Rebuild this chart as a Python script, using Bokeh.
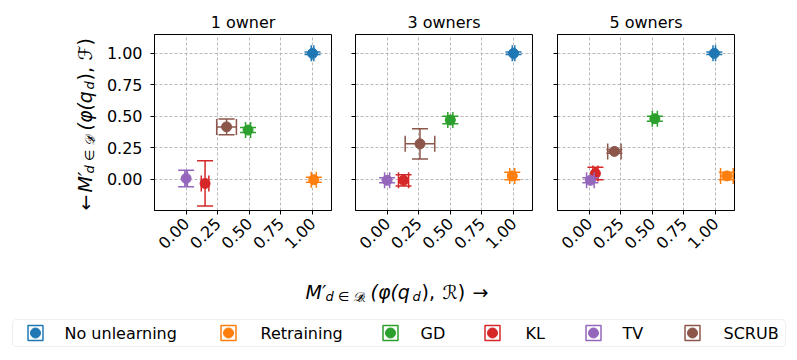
from math import pi
from bokeh.plotting import figure
from bokeh.layouts import row, column
from bokeh.models import Range1d, FixedTicker, NumeralTickFormatter, ColumnDataSource, BoxAnnotation
from bokeh.core.properties import value
from bokeh.embed import file_html
from bokeh.resources import INLINE

# ---------------- data ----------------
methods = ["No unlearning", "Retraining", "GD", "KL", "TV", "SCRUB"]
colors = ["#1f77b4", "#ff7f0e", "#2ca02c", "#d62728", "#9467bd", "#8c564b"]
panel_titles = ["1 owner", "3 owners", "5 owners"]
tick_values = [0.0, 0.25, 0.5, 0.75, 1.0]

# 1 owner
x_1 = [1.00, 1.01, 0.49, 0.15, 0.00, 0.32]
y_1 = [1.00, -0.005, 0.39, -0.035, 0.005, 0.415]
xerr_1 = [0.01, 0.02, 0.02, 0.03, 0.01, 0.078]
yerr_1 = [0.01, 0.02, 0.02, 0.18, 0.066, 0.063]

# 3 owners
x_3 = [1.00, 0.99, 0.50, 0.13, 0.00, 0.26]
y_3 = [1.00, 0.025, 0.47, -0.01, -0.01, 0.28]
xerr_3 = [0.01, 0.02, 0.02, 0.04, 0.02, 0.117]
yerr_3 = [0.01, 0.03, 0.03, 0.045, 0.02, 0.12]

# 5 owners
x_5 = [0.99, 1.09, 0.52, 0.05, 0.01, 0.20]
y_5 = [1.00, 0.025, 0.48, 0.045, -0.01, 0.22]
xerr_5 = [0.01, 0.05, 0.02, 0.02, 0.03, 0.053]
yerr_5 = [0.01, 0.03, 0.02, 0.05, 0.02, 0.015]

panels_data = [(x_1, y_1, xerr_1, yerr_1), (x_3, y_3, xerr_3, yerr_3), (x_5, y_5, xerr_5, yerr_5)]

# ---------------- style / layout ----------------
FONT = "DejaVu Sans"
FRAME_W, FRAME_H = 177, 176
B_TOP, B_BOT = 34, 52
borders = [(54, 12), (12, 12), (13, 63)]


def make_panel(idx):
    xs, ys, xe, ye = panels_data[idx]
    bl, br = borders[idx]
    p = figure(title=panel_titles[idx], frame_width=FRAME_W, frame_height=FRAME_H,
               x_range=Range1d(-0.25, 1.15), y_range=Range1d(-0.25, 1.15),
               output_backend="svg", toolbar_location=None,
               min_border_left=bl, min_border_right=br, min_border_top=B_TOP, min_border_bottom=B_BOT)
    p.title.align = "center"
    p.title.text_font = FONT
    p.title.text_font_size = "16px"
    p.title.text_font_style = "normal"
    p.title.text_color = "black"
    p.title.standoff = 5
    p.outline_line_color = "black"
    p.outline_line_width = 1
    p.background_fill_color = "white"
    p.border_fill_color = "white"
    for ax in (p.xaxis, p.yaxis):
        ax.ticker = FixedTicker(ticks=tick_values)
        ax.formatter = NumeralTickFormatter(format="0.00")
        ax.major_label_text_font = FONT
        ax.major_label_text_font_size = "16px"
        ax.major_label_text_color = "black"
        ax.major_tick_out = 4
        ax.major_tick_in = 0
        ax.minor_tick_line_color = None
        ax.axis_line_color = "black"
        ax.major_tick_line_color = "black"
        ax.major_label_standoff = 6
    p.yaxis.major_label_standoff = 8
    p.xaxis.major_label_orientation = pi / 4
    if idx > 0:
        p.yaxis.major_label_overrides = {t: "" for t in tick_values}
    p.grid.grid_line_color = "#b8b8b8"
    p.grid.grid_line_dash = "3 2"
    p.grid.grid_line_width = 1

    for i in range(len(methods)):
        c = colors[i]
        x, y, dx, dy = xs[i], ys[i], xe[i], ye[i]
        src = ColumnDataSource(dict(x=[x], y=[y], xl=[x - dx], xr=[x + dx], yb=[y - dy], yt=[y + dy]))
        p.segment(x0="xl", y0="y", x1="xr", y1="y", source=src, line_color=c, line_width=1.5)
        p.segment(x0="x", y0="yb", x1="x", y1="yt", source=src, line_color=c, line_width=1.5)
        p.scatter(x="x", y="yb", marker="dash", size=16, line_color=c, line_width=1.5, source=src)
        p.scatter(x="x", y="yt", marker="dash", size=16, line_color=c, line_width=1.5, source=src)
        p.scatter(x="xl", y="y", marker="dash", angle=pi / 2, size=16, line_color=c, line_width=1.5, source=src)
        p.scatter(x="xr", y="y", marker="dash", angle=pi / 2, size=16, line_color=c, line_width=1.5, source=src)
        p.scatter(x="x", y="y", marker="circle", size=10, fill_color=c, line_color=c, source=src)
    return p


def blank_fig(w, h, x0, x1, y_top, y_bot, **kw):
    f = figure(x_range=Range1d(x0, x1), y_range=Range1d(y_bot, y_top),
               x_axis_location=None, y_axis_location=None, output_backend="svg",
               toolbar_location=None, min_border=0, **kw)
    if "frame_height" not in kw:
        f.width = w
        f.height = h
        f.min_border_left = f.min_border_right = f.min_border_top = f.min_border_bottom = 0
    f.grid.visible = False
    f.outline_line_color = None
    f.background_fill_color = "white"
    f.border_fill_color = "white"
    return f


panels = [make_panel(i) for i in range(3)]

# sizes for math-like label pieces (main, subscript, sub-subscript)
SIZES = {0: "19px", 1: "13px", 2: "9px"}
SHIFT = {0: 0, 1: 5, 2: 7}

xlabel_pieces = [("M\u2032", 0, 0, "italic"), ("d \u2208 \U0001D49F", 20, 1, "italic"),
                 ("\u211B", 53, 2, "normal"), ("(\u03c6(q", 65, 0, "italic"),
                 ("d", 107, 1, "italic"), ("),", 116, 0, "normal"),
                 ("\u211B)", 137, 0, "normal"), ("\u2192", 167, 0, "normal")]
ylabel_pieces = [("\u2190", 0, 0, "normal"), ("M\u2032", 18, 0, "italic"),
                 ("d \u2208 \U0001D49F", 37, 1, "italic"), ("\u2131", 69, 2, "normal"),
                 ("(\u03c6(q", 80, 0, "italic"), ("d", 121, 1, "italic"),
                 ("),", 130, 0, "normal"), ("\u2131)", 150, 0, "normal")]

# y label figure: frame aligned with the panels' frames (page y 34..210)
ylab = blank_fig(100, 262, 0, 100, B_TOP, B_TOP + FRAME_H,
                 frame_width=100, frame_height=FRAME_H)
ylab.min_border_left = 0
ylab.min_border_right = 0
ylab.min_border_top = B_TOP
ylab.min_border_bottom = B_BOT
Y_START, Y_BASE = 210, 84
for txt, off, lvl, style in ylabel_pieces:
    ylab.text(x=[Y_BASE + SHIFT[lvl]], y=[Y_START - off], text=[txt], angle=pi / 2,
              text_align="left", text_baseline="alphabetic", text_font=value(FONT),
              text_font_size=SIZES[lvl], text_font_style=style, text_color="black")

top = row(ylab, *panels)

# x label figure (page y 262..305)
xlab = blank_fig(797, 43, 0, 797, 262, 305)
X_START, X_BASE = 305, 291
for txt, off, lvl, style in xlabel_pieces:
    xlab.text(x=[X_START + off], y=[X_BASE + SHIFT[lvl]], text=[txt],
              text_align="left", text_baseline="alphabetic", text_font=value(FONT),
              text_font_size=SIZES[lvl], text_font_style=style, text_color="black")

# legend figure (page y 305..360)
leg = blank_fig(797, 55, 0, 797, 305, 360)
leg.add_layout(BoxAnnotation(left=12, right=785, top=319, bottom=346, fill_color="white",
                             fill_alpha=1, line_color="#cccccc", line_width=1.2,
                             border_radius=4, level="underlay"))
marker_x = [35, 228, 390, 492, 593, 692]
text_x = [64, 260, 420, 525, 622, 723]
LEG_Y = 332.5
for i, m in enumerate(methods):
    c = colors[i]
    leg.rect(x=[marker_x[i]], y=[LEG_Y], width=15, height=15, width_units="screen",
             height_units="screen", fill_color=None, line_color=c, line_width=1.5)
    leg.scatter(x=[marker_x[i]], y=[LEG_Y], marker="circle", size=10, fill_color=c, line_color=c)
    leg.text(x=[text_x[i]], y=[LEG_Y], text=[m], text_align="left", text_baseline="middle",
             text_font=value(FONT), text_font_size="16px", text_color="black")

layout = column(top, xlab, leg)
open("out.html", "w").write(file_html(layout, INLINE))
